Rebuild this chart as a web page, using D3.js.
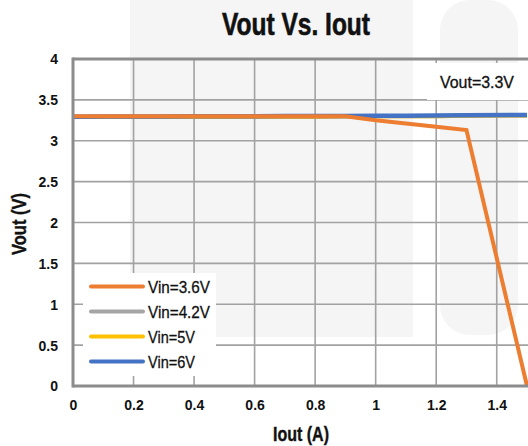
<!DOCTYPE html>
<html><head><meta charset="utf-8">
<script src="https://cdn.jsdelivr.net/npm/d3@7"></script>
<style>
body{margin:0;background:#fff;}
svg{display:block;}
text{font-family:"Liberation Sans",Arial,sans-serif;fill:#111;}
</style></head>
<body>
<svg id="c" width="528" height="446"></svg>
<script>
const iout = [0, 0.1, 0.2, 0.3, 0.4, 0.5, 0.6, 0.7, 0.8, 0.9, 1.0, 1.1, 1.2, 1.3, 1.5];
const vin36 = [3.30, 3.30, 3.30, 3.30, 3.30, 3.30, 3.30, 3.30, 3.30, 3.30, 3.25, 3.21, 3.17, 3.13, 0.0];
const vin42 = [3.29, 3.29, 3.29, 3.29, 3.29, 3.29, 3.295, 3.295, 3.295, 3.30, 3.30, 3.30, 3.30, 3.305, 3.31];
const vin5  = [3.29, 3.29, 3.29, 3.29, 3.29, 3.29, 3.295, 3.295, 3.295, 3.30, 3.30, 3.30, 3.30, 3.305, 3.31];
const vin6  = [3.295, 3.296, 3.297, 3.298, 3.299, 3.30, 3.301, 3.302, 3.303, 3.304, 3.305, 3.307, 3.309, 3.311, 3.315];
const seriesNames = ["Vin=3.6V", "Vin=4.2V", "Vin=5V", "Vin=6V"];
const seriesColors = ["#ED7D31", "#A5A5A5", "#FFC000", "#4472C4"];
const xTicks = [0, 0.2, 0.4, 0.6, 0.8, 1, 1.2, 1.4];
const yTicks = [0, 0.5, 1, 1.5, 2, 2.5, 3, 3.5, 4];
const title = "Vout Vs. Iout";
const xTitle = "Iout (A)";
const yTitle = "Vout (V)";
const note = "Vout=3.3V";

const svg = d3.select("#c");
const L = 73, R = 527, T = 59, B = 386;
const x = d3.scaleLinear().domain([0, 1.5]).range([L, R]);
const y = d3.scaleLinear().domain([0, 4]).range([B, T]);

// faint watermark
svg.append("rect").attr("x",130).attr("y",0).attr("width",283).attr("height",337).attr("fill","#f5f5f5");
svg.append("rect").attr("x",440).attr("y",0).attr("width",78).attr("height",335).attr("rx",30).attr("fill","#f5f5f5");

// title
svg.append("text").attr("x",296).attr("y",35).attr("text-anchor","middle")
  .attr("textLength",148).attr("lengthAdjust","spacingAndGlyphs")
  .style("font-size","31px").style("font-weight","bold")
  .attr("stroke","#111").attr("stroke-width",0.6).text(title);

// grid
const g = svg.append("g");
g.selectAll(".gx").data(xTicks.slice(1)).join("line")
  .attr("x1",d=>x(d)).attr("x2",d=>x(d)).attr("y1",T).attr("y2",B)
  .attr("stroke","#a2a2a2").attr("stroke-width",1.6);
g.selectAll(".gy").data(yTicks.slice(1)).join("line")
  .attr("x1",L).attr("x2",R+1).attr("y1",d=>y(d)).attr("y2",d=>y(d))
  .attr("stroke","#a2a2a2").attr("stroke-width",1.6);
svg.append("line").attr("x1",L).attr("x2",528).attr("y1",T).attr("y2",T).attr("stroke","#8c8c8c").attr("stroke-width",3);

// annotation box
svg.append("rect").attr("x",427).attr("y",63).attr("width",101).attr("height",37).attr("fill","#fff");
svg.append("text").attr("x",477).attr("y",88).attr("text-anchor","middle")
  .attr("textLength",74).attr("lengthAdjust","spacingAndGlyphs")
  .attr("stroke","#111").attr("stroke-width",0.3)
  .style("font-size","16px").text(note);

// axes
const xa = svg.append("g").attr("transform",`translate(0,${B})`)
  .call(d3.axisBottom(x).tickValues(xTicks).tickSize(0).tickFormat(d3.format("~g")));
xa.select(".domain").remove();
xa.selectAll("text").attr("dy","0").attr("y",24).style("font-size","14px")
  .style("font-family","'Liberation Sans',sans-serif").attr("fill","#111").style("font-weight","bold");
const ya = svg.append("g").attr("transform",`translate(${L},0)`)
  .call(d3.axisLeft(y).tickValues(yTicks).tickSize(0).tickFormat(d3.format("~g")));
ya.select(".domain").remove();
ya.selectAll("text").attr("x",-15).attr("dy","0.35em").style("font-size","14px")
  .style("font-family","'Liberation Sans',sans-serif").attr("fill","#111").style("font-weight","bold");

// series
const all = [vin36, vin42, vin5, vin6];
const line = d3.line().x((d,i)=>x(iout[i])).y(d=>y(d));
const sg = svg.append("g");
[1,2,3,0].forEach(k=>{
  sg.append("path").datum(all[k]).attr("d",line).attr("fill","none")
    .attr("stroke",seriesColors[k]).attr("stroke-width",k===3?4.5:4).attr("stroke-linejoin","miter");
});

// axis lines on top
svg.append("line").attr("x1",L).attr("x2",L).attr("y1",T-1.5).attr("y2",B+1.5).attr("stroke","#8c8c8c").attr("stroke-width",3);
svg.append("line").attr("x1",L).attr("x2",528).attr("y1",B).attr("y2",B).attr("stroke","#8c8c8c").attr("stroke-width",3);

// legend
const lg = svg.append("g");
lg.append("rect").attr("x",83).attr("y",273).attr("width",133).attr("height",103).attr("fill","#fff");
const legW = [62, 62, 47, 47];
seriesNames.forEach((n,i)=>{
  const yy = 286.5 + i*25;
  lg.append("line").attr("x1",91).attr("x2",143).attr("y1",yy).attr("y2",yy)
    .attr("stroke",seriesColors[i]).attr("stroke-width",4).attr("stroke-linecap","round");
  lg.append("text").attr("x",148).attr("y",yy).attr("dy","0.36em")
    .attr("textLength",legW[i]).attr("lengthAdjust","spacingAndGlyphs")
    .attr("stroke","#111").attr("stroke-width",0.3)
    .style("font-size","17px").text(n);
});

// axis titles
svg.append("text").attr("x",301).attr("y",441).attr("text-anchor","middle")
  .attr("textLength",56).attr("lengthAdjust","spacingAndGlyphs")
  .attr("stroke","#111").attr("stroke-width",0.4)
  .style("font-size","20px").style("font-weight","bold").text(xTitle);
svg.append("text").attr("transform","translate(26,224) rotate(-90)").attr("text-anchor","middle")
  .attr("textLength",62).attr("lengthAdjust","spacingAndGlyphs")
  .attr("stroke","#111").attr("stroke-width",0.4)
  .style("font-size","20px").style("font-weight","bold").text(yTitle);
</script>
</body></html>
